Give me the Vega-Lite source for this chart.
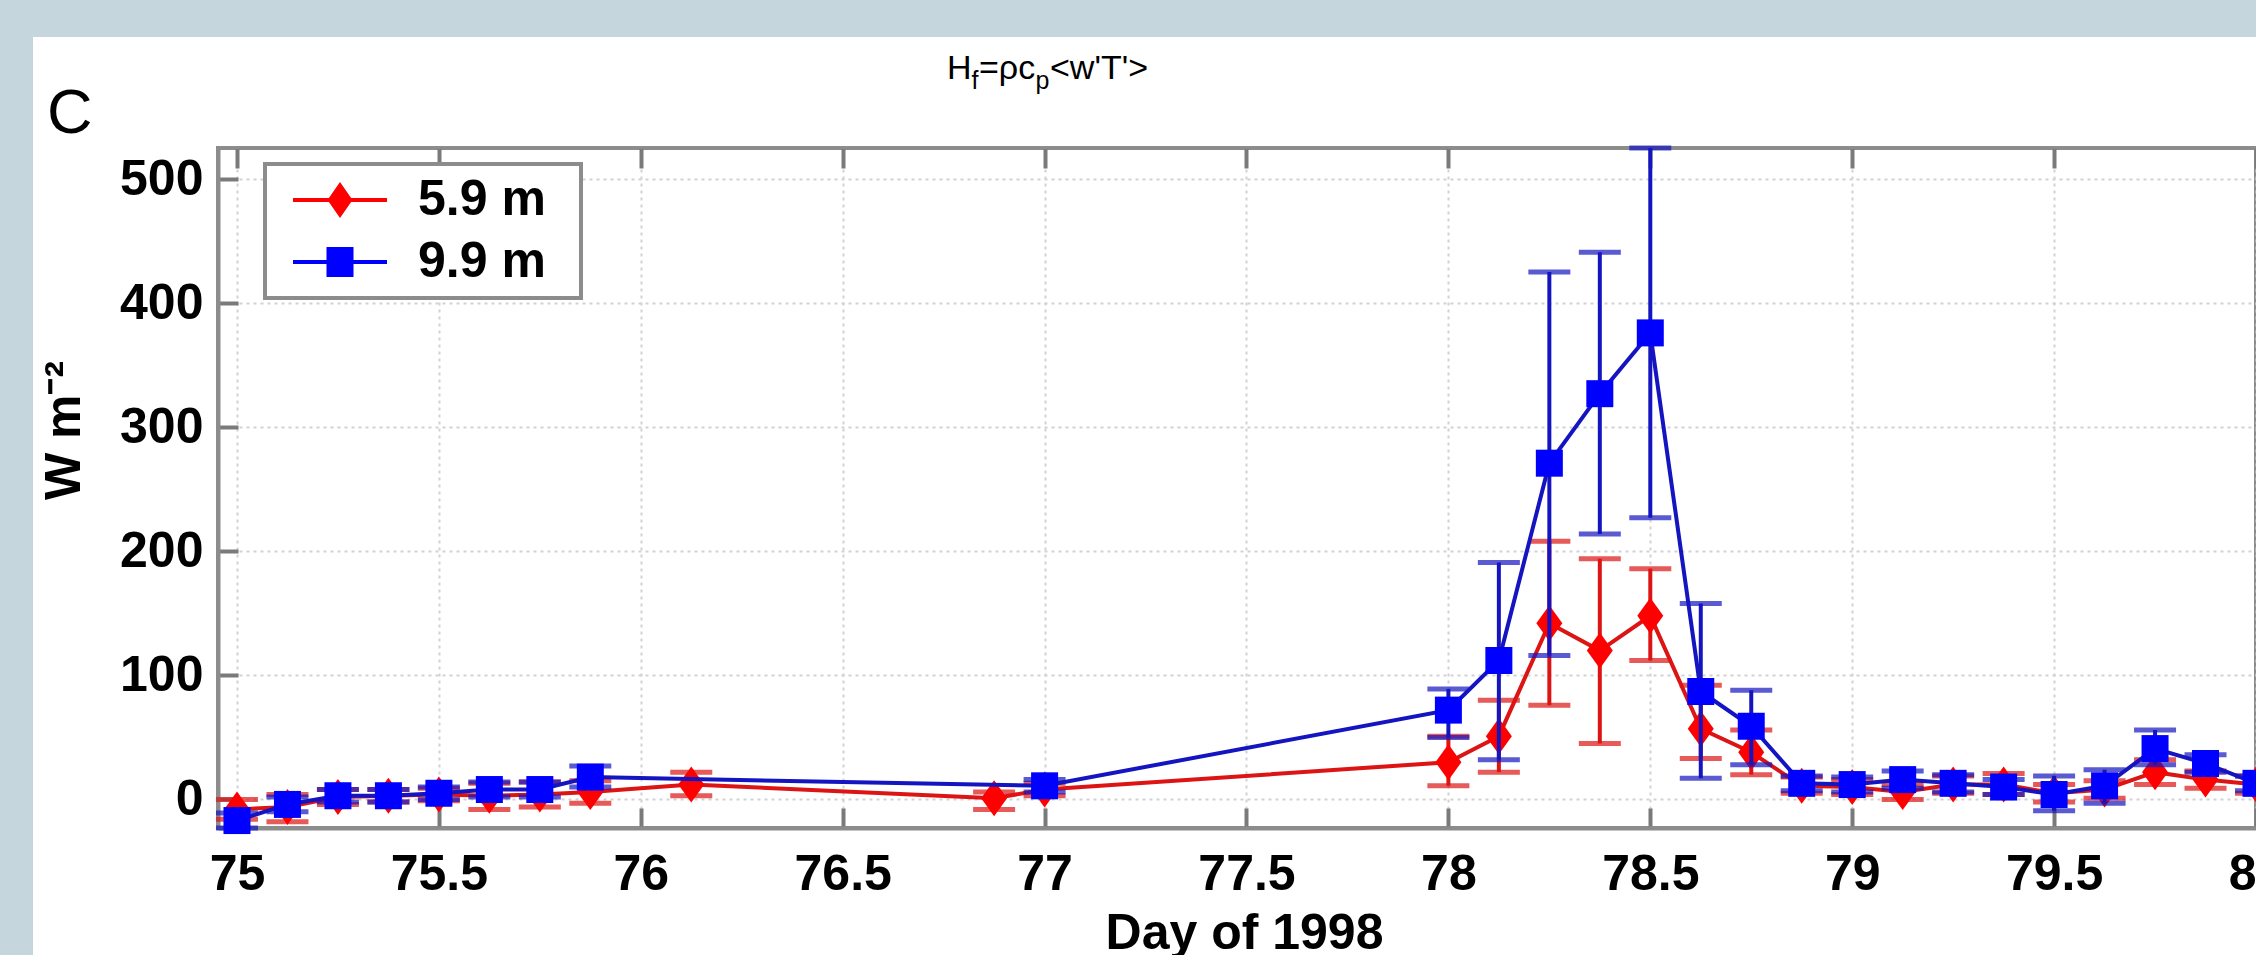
{
  "$schema": "https://vega.github.io/schema/vega-lite/v6.json",
  "width": 2038,
  "height": 680,
  "autosize": "none",
  "padding": {"left": 218, "top": 148, "right": 0, "bottom": 127},
  "background": "white",
  "config": {
    "view": {"stroke": "#8c8c8c", "strokeWidth": 4},
    "axis": {
      "labelFont": "Liberation Sans", "labelFontSize": 50, "labelFontWeight": "bold", "labelColor": "#000000",
      "titleFont": "Liberation Sans", "titleFontSize": 50, "titleFontWeight": "bold", "titleColor": "#000000",
      "tickColor": "#7a7a7a", "tickWidth": 4,
      "domainColor": "#8c8c8c", "domainWidth": 4,
      "gridColor": "#d2d2d2", "gridWidth": 2, "gridDash": [3, 4]
    },
    "legend": {"strokeWidth": 4}
  },
  "datasets": {
    "flux": [
      {"day": 75.0, "depth": "5.9 m", "flux": -8, "lo": -16, "hi": 0},
      {"day": 75.125, "depth": "5.9 m", "flux": -6, "lo": -18, "hi": 4},
      {"day": 75.25, "depth": "5.9 m", "flux": 2, "lo": -4, "hi": 8},
      {"day": 75.375, "depth": "5.9 m", "flux": 3, "lo": -2, "hi": 8},
      {"day": 75.5, "depth": "5.9 m", "flux": 4, "lo": -1, "hi": 9},
      {"day": 75.625, "depth": "5.9 m", "flux": 3, "lo": -8, "hi": 13},
      {"day": 75.75, "depth": "5.9 m", "flux": 4, "lo": -6, "hi": 14},
      {"day": 75.875, "depth": "5.9 m", "flux": 6, "lo": -3, "hi": 15},
      {"day": 76.125, "depth": "5.9 m", "flux": 12, "lo": 3, "hi": 22},
      {"day": 76.875, "depth": "5.9 m", "flux": 1, "lo": -8, "hi": 6},
      {"day": 77.0, "depth": "5.9 m", "flux": 8, "lo": 3, "hi": 13},
      {"day": 78.0, "depth": "5.9 m", "flux": 30, "lo": 11, "hi": 51},
      {"day": 78.125, "depth": "5.9 m", "flux": 51, "lo": 22, "hi": 80},
      {"day": 78.25, "depth": "5.9 m", "flux": 142, "lo": 76, "hi": 208},
      {"day": 78.375, "depth": "5.9 m", "flux": 120, "lo": 45, "hi": 194},
      {"day": 78.5, "depth": "5.9 m", "flux": 148, "lo": 112, "hi": 186},
      {"day": 78.625, "depth": "5.9 m", "flux": 57, "lo": 33, "hi": 92},
      {"day": 78.75, "depth": "5.9 m", "flux": 38, "lo": 20, "hi": 56},
      {"day": 78.875, "depth": "5.9 m", "flux": 11, "lo": 5, "hi": 18},
      {"day": 79.0, "depth": "5.9 m", "flux": 10, "lo": 4, "hi": 16},
      {"day": 79.125, "depth": "5.9 m", "flux": 6, "lo": 0, "hi": 12},
      {"day": 79.25, "depth": "5.9 m", "flux": 12, "lo": 5, "hi": 19},
      {"day": 79.375, "depth": "5.9 m", "flux": 12, "lo": 4, "hi": 21},
      {"day": 79.5, "depth": "5.9 m", "flux": 5, "lo": -2, "hi": 12},
      {"day": 79.625, "depth": "5.9 m", "flux": 8, "lo": 1, "hi": 15},
      {"day": 79.75, "depth": "5.9 m", "flux": 22, "lo": 12, "hi": 32},
      {"day": 79.875, "depth": "5.9 m", "flux": 16, "lo": 9, "hi": 23},
      {"day": 80.0, "depth": "5.9 m", "flux": 12, "lo": 5, "hi": 19},
      {"day": 75.0, "depth": "9.9 m", "flux": -17, "lo": -23, "hi": -11},
      {"day": 75.125, "depth": "9.9 m", "flux": -4, "lo": -10, "hi": 2},
      {"day": 75.25, "depth": "9.9 m", "flux": 3, "lo": -2, "hi": 8},
      {"day": 75.375, "depth": "9.9 m", "flux": 3, "lo": -2, "hi": 8},
      {"day": 75.5, "depth": "9.9 m", "flux": 5, "lo": 0, "hi": 10},
      {"day": 75.625, "depth": "9.9 m", "flux": 8, "lo": 2, "hi": 14},
      {"day": 75.75, "depth": "9.9 m", "flux": 8, "lo": 2, "hi": 14},
      {"day": 75.875, "depth": "9.9 m", "flux": 18, "lo": 10, "hi": 27},
      {"day": 77.0, "depth": "9.9 m", "flux": 11, "lo": 6, "hi": 16},
      {"day": 78.0, "depth": "9.9 m", "flux": 72, "lo": 50, "hi": 89},
      {"day": 78.125, "depth": "9.9 m", "flux": 112, "lo": 32, "hi": 191},
      {"day": 78.25, "depth": "9.9 m", "flux": 271, "lo": 116, "hi": 425},
      {"day": 78.375, "depth": "9.9 m", "flux": 327, "lo": 214, "hi": 441},
      {"day": 78.5, "depth": "9.9 m", "flux": 376, "lo": 227, "hi": 525},
      {"day": 78.625, "depth": "9.9 m", "flux": 87, "lo": 17, "hi": 158},
      {"day": 78.75, "depth": "9.9 m", "flux": 59, "lo": 28, "hi": 88},
      {"day": 78.875, "depth": "9.9 m", "flux": 13, "lo": 7, "hi": 19},
      {"day": 79.0, "depth": "9.9 m", "flux": 12, "lo": 6, "hi": 18},
      {"day": 79.125, "depth": "9.9 m", "flux": 16, "lo": 9, "hi": 23},
      {"day": 79.25, "depth": "9.9 m", "flux": 13, "lo": 6, "hi": 20},
      {"day": 79.375, "depth": "9.9 m", "flux": 10, "lo": 4, "hi": 16},
      {"day": 79.5, "depth": "9.9 m", "flux": 4, "lo": -9, "hi": 19},
      {"day": 79.625, "depth": "9.9 m", "flux": 11, "lo": -3, "hi": 24},
      {"day": 79.75, "depth": "9.9 m", "flux": 41, "lo": 28, "hi": 56},
      {"day": 79.875, "depth": "9.9 m", "flux": 29, "lo": 22, "hi": 36},
      {"day": 80.0, "depth": "9.9 m", "flux": 13, "lo": 7, "hi": 19}
    ]
  },
  "resolve": {"axis": {"x": "independent", "y": "independent"}},
  "layer": [
    {
      "data": {"values": [{}]},
      "mark": {"type": "rect", "color": "#c6d6dd"},
      "encoding": {
        "x": {"datum": 74.3, "type": "quantitative", "scale": {"domain": [74.953, 80], "nice": false, "zero": false}, "axis": null},
        "x2": {"datum": 80.3},
        "y": {"datum": 614.5, "type": "quantitative", "scale": {"domain": [-23, 525], "nice": false, "zero": false}, "axis": null},
        "y2": {"datum": 660}
      }
    },
    {
      "data": {"values": [{}]},
      "mark": {"type": "rect", "color": "#c6d6dd"},
      "encoding": {
        "x": {"datum": 74.3, "type": "quantitative", "scale": {"domain": [74.953, 80], "nice": false, "zero": false}, "axis": null},
        "x2": {"datum": 74.4949},
        "y": {"datum": -130, "type": "quantitative", "scale": {"domain": [-23, 525], "nice": false, "zero": false}, "axis": null},
        "y2": {"datum": 614.5}
      }
    },
    {
      "data": {"name": "flux"},
      "transform": [{"filter": "datum.depth === '5.9 m'"}],
      "mark": {"type": "rule", "color": "#dc1414", "strokeWidth": 4},
      "encoding": {
        "x": {"field": "day", "type": "quantitative", "scale": {"domain": [74.953, 80], "nice": false, "zero": false},
              "axis": {"values": [75, 75.5, 76, 76.5, 77, 77.5, 78, 78.5, 79, 79.5, 80], "format": "~g", "title": "Day of 1998", "grid": true, "tickSize": -20, "labelPadding": 41, "titleX": 1026, "titleY": 120, "titleBaseline": "alphabetic", "labelFlush": false, "labelOverlap": false}},
        "y": {"field": "lo", "type": "quantitative", "scale": {"domain": [-23, 525], "nice": false, "zero": false},
              "axis": {"values": [0, 100, 200, 300, 400, 500], "title": "W m⁻²", "grid": true, "tickSize": -20, "labelPadding": 35, "titleX": -139, "titleY": 282, "titleAngle": 270, "titleBaseline": "alphabetic", "titleAlign": "center", "labelOverlap": false}},
        "y2": {"field": "hi"}
      }
    },
    {
      "data": {"name": "flux"},
      "transform": [{"filter": "datum.depth === '5.9 m'"}],
      "mark": {"type": "tick", "orient": "horizontal", "color": "#dc1414", "size": 42, "thickness": 5},
      "encoding": {
        "x": {"field": "day", "type": "quantitative", "scale": {"domain": [74.953, 80], "nice": false, "zero": false}, "axis": null},
        "y": {"field": "lo", "type": "quantitative", "scale": {"domain": [-23, 525], "nice": false, "zero": false}, "axis": null}
      }
    },
    {
      "data": {"name": "flux"},
      "transform": [{"filter": "datum.depth === '5.9 m'"}],
      "mark": {"type": "tick", "orient": "horizontal", "color": "#dc1414", "size": 42, "thickness": 5},
      "encoding": {
        "x": {"field": "day", "type": "quantitative", "scale": {"domain": [74.953, 80], "nice": false, "zero": false}, "axis": null},
        "y": {"field": "hi", "type": "quantitative", "scale": {"domain": [-23, 525], "nice": false, "zero": false}, "axis": null}
      }
    },
    {
      "data": {"name": "flux"},
      "transform": [{"filter": "datum.depth === '5.9 m'"}],
      "mark": {"type": "line", "color": "#dc1414", "strokeWidth": 4},
      "encoding": {
        "x": {"field": "day", "type": "quantitative", "scale": {"domain": [74.953, 80], "nice": false, "zero": false}, "axis": null},
        "y": {"field": "flux", "type": "quantitative", "scale": {"domain": [-23, 525], "nice": false, "zero": false}, "axis": null},
        "order": {"field": "day"}
      }
    },
    {
      "data": {"name": "flux"},
      "transform": [{"filter": "datum.depth === '5.9 m'"}],
      "mark": {"type": "point", "filled": true, "opacity": 1, "color": "#ff0000", "shape": "M0,-3.6L2.6,0L0,3.6L-2.6,0Z", "size": 100, "strokeWidth": 0},
      "encoding": {
        "x": {"field": "day", "type": "quantitative", "scale": {"domain": [74.953, 80], "nice": false, "zero": false}, "axis": null},
        "y": {"field": "flux", "type": "quantitative", "scale": {"domain": [-23, 525], "nice": false, "zero": false}, "axis": null}
      }
    },
    {
      "data": {"name": "flux"},
      "transform": [{"filter": "datum.depth === '9.9 m'"}],
      "mark": {"type": "rule", "color": "#1414c0", "strokeWidth": 4},
      "encoding": {
        "x": {"field": "day", "type": "quantitative", "scale": {"domain": [74.953, 80], "nice": false, "zero": false}, "axis": null},
        "y": {"field": "lo", "type": "quantitative", "scale": {"domain": [-23, 525], "nice": false, "zero": false}, "axis": null},
        "y2": {"field": "hi"}
      }
    },
    {
      "data": {"name": "flux"},
      "transform": [{"filter": "datum.depth === '9.9 m'"}],
      "mark": {"type": "tick", "orient": "horizontal", "color": "#1414c0", "size": 42, "thickness": 5},
      "encoding": {
        "x": {"field": "day", "type": "quantitative", "scale": {"domain": [74.953, 80], "nice": false, "zero": false}, "axis": null},
        "y": {"field": "lo", "type": "quantitative", "scale": {"domain": [-23, 525], "nice": false, "zero": false}, "axis": null}
      }
    },
    {
      "data": {"name": "flux"},
      "transform": [{"filter": "datum.depth === '9.9 m'"}],
      "mark": {"type": "tick", "orient": "horizontal", "color": "#1414c0", "size": 42, "thickness": 5},
      "encoding": {
        "x": {"field": "day", "type": "quantitative", "scale": {"domain": [74.953, 80], "nice": false, "zero": false}, "axis": null},
        "y": {"field": "hi", "type": "quantitative", "scale": {"domain": [-23, 525], "nice": false, "zero": false}, "axis": null}
      }
    },
    {
      "data": {"name": "flux"},
      "transform": [{"filter": "datum.depth === '9.9 m'"}],
      "mark": {"type": "line", "color": "#1414c0", "strokeWidth": 4},
      "encoding": {
        "x": {"field": "day", "type": "quantitative", "scale": {"domain": [74.953, 80], "nice": false, "zero": false}, "axis": null},
        "y": {"field": "flux", "type": "quantitative", "scale": {"domain": [-23, 525], "nice": false, "zero": false}, "axis": null},
        "order": {"field": "day"}
      }
    },
    {
      "data": {"name": "flux"},
      "transform": [{"filter": "datum.depth === '9.9 m'"}],
      "mark": {"type": "point", "filled": true, "opacity": 1, "color": "#0000ff", "shape": "M-2.7,-2.7H2.7V2.7H-2.7Z", "size": 100, "strokeWidth": 0},
      "encoding": {
        "x": {"field": "day", "type": "quantitative", "scale": {"domain": [74.953, 80], "nice": false, "zero": false}, "axis": null},
        "y": {"field": "flux", "type": "quantitative", "scale": {"domain": [-23, 525], "nice": false, "zero": false}, "axis": null}
      }
    },
    {
      "data": {"name": "flux"},
      "mark": {"type": "point", "filled": true, "opacity": 1, "strokeWidth": 0},
      "encoding": {
        "x": {"datum": 90, "type": "quantitative", "scale": {"domain": [74.953, 80], "nice": false, "zero": false}, "axis": null},
        "y": {"field": "flux", "type": "quantitative", "scale": {"domain": [-23, 525], "nice": false, "zero": false}, "axis": null},
        "color": {"field": "depth", "type": "nominal", "scale": {"domain": ["5.9 m", "9.9 m"], "range": ["#ff0000", "#0000ff"]},
          "legend": {"title": null, "orient": "none", "legendX": 47, "legendY": 16, "padding": 11, "rowPadding": 12, "symbolOffset": 39, "labelOffset": 53, "symbolSize": 2500,
            "labelFont": "Liberation Sans", "labelFontSize": 50, "labelFontWeight": "bold", "labelColor": "#000000", "labelBaseline": "middle", "labelLimit": 400,
            "labelExpr": "datum.label + '\u00a0\u2009\u200d'", "fillColor": "#ffffff", "strokeColor": "#8c8c8c", "symbolStrokeWidth": 0, "symbolOpacity": 1}},
        "shape": {"field": "depth", "type": "nominal",
          "scale": {"domain": ["5.9 m", "9.9 m"], "range": ["M-1.88,-0.08H1.88V0.08H-1.88ZM0,-0.72L0.5,0L0,0.72L-0.5,0Z", "M-1.88,-0.08H1.88V0.08H-1.88ZM-0.54,-0.6H0.54V0.6H-0.54Z"]},
          "legend": {"title": null, "orient": "none", "legendX": 47, "legendY": 16, "padding": 11, "rowPadding": 12, "symbolOffset": 39, "labelOffset": 53, "symbolSize": 2500,
            "labelFont": "Liberation Sans", "labelFontSize": 50, "labelFontWeight": "bold", "labelColor": "#000000", "labelBaseline": "middle", "labelLimit": 400,
            "labelExpr": "datum.label + '\u00a0\u2009\u200d'", "fillColor": "#ffffff", "strokeColor": "#8c8c8c", "symbolStrokeWidth": 0, "symbolOpacity": 1}}
      }
    },
    {
      "data": {"values": [{}]},
      "mark": {"type": "text", "text": "C", "font": "Liberation Sans", "fontSize": 63, "align": "left", "baseline": "alphabetic", "color": "#000000"},
      "encoding": {
        "x": {"datum": 74.5295, "type": "quantitative", "scale": {"domain": [74.953, 80], "nice": false, "zero": false},
              "axis": {"orient": "top", "values": [75, 75.5, 76, 76.5, 77, 77.5, 78, 78.5, 79, 79.5, 80], "labels": false, "grid": false, "domain": false, "ticks": true, "tickSize": -20, "title": null}},
        "y": {"datum": 537.1, "type": "quantitative", "scale": {"domain": [-23, 525], "nice": false, "zero": false}, "axis": null}
      }
    },
    {
      "data": {"values": [{}]},
      "mark": {"type": "text", "text": "H", "font": "Liberation Sans", "fontSize": 34, "align": "left", "baseline": "alphabetic", "color": "#000000"},
      "encoding": {
        "x": {"datum": 76.7584, "type": "quantitative", "scale": {"domain": [74.953, 80], "nice": false, "zero": false}, "axis": null},
        "y": {"datum": 580.6, "type": "quantitative", "scale": {"domain": [-23, 525], "nice": false, "zero": false}, "axis": null}
      }
    },
    {
      "data": {"values": [{}]},
      "mark": {"type": "text", "text": "f", "font": "Liberation Sans", "fontSize": 25, "align": "left", "baseline": "alphabetic", "color": "#000000"},
      "encoding": {
        "x": {"datum": 76.819, "type": "quantitative", "scale": {"domain": [74.953, 80], "nice": false, "zero": false}, "axis": null},
        "y": {"datum": 572.5, "type": "quantitative", "scale": {"domain": [-23, 525], "nice": false, "zero": false}, "axis": null}
      }
    },
    {
      "data": {"values": [{}]},
      "mark": {"type": "text", "text": "=ρc", "font": "Liberation Sans", "fontSize": 34, "align": "left", "baseline": "alphabetic", "color": "#000000"},
      "encoding": {
        "x": {"datum": 76.8376, "type": "quantitative", "scale": {"domain": [74.953, 80], "nice": false, "zero": false}, "axis": null},
        "y": {"datum": 580.6, "type": "quantitative", "scale": {"domain": [-23, 525], "nice": false, "zero": false}, "axis": null}
      }
    },
    {
      "data": {"values": [{}]},
      "mark": {"type": "text", "text": "p", "font": "Liberation Sans", "fontSize": 25, "align": "left", "baseline": "alphabetic", "color": "#000000"},
      "encoding": {
        "x": {"datum": 76.9775, "type": "quantitative", "scale": {"domain": [74.953, 80], "nice": false, "zero": false}, "axis": null},
        "y": {"datum": 572.5, "type": "quantitative", "scale": {"domain": [-23, 525], "nice": false, "zero": false}, "axis": null}
      }
    },
    {
      "data": {"values": [{}]},
      "mark": {"type": "text", "text": "<w'T'>", "font": "Liberation Sans", "fontSize": 34, "align": "left", "baseline": "alphabetic", "color": "#000000"},
      "encoding": {
        "x": {"datum": 77.0134, "type": "quantitative", "scale": {"domain": [74.953, 80], "nice": false, "zero": false}, "axis": null},
        "y": {"datum": 580.6, "type": "quantitative", "scale": {"domain": [-23, 525], "nice": false, "zero": false}, "axis": null}
      }
    }
  ]
}
